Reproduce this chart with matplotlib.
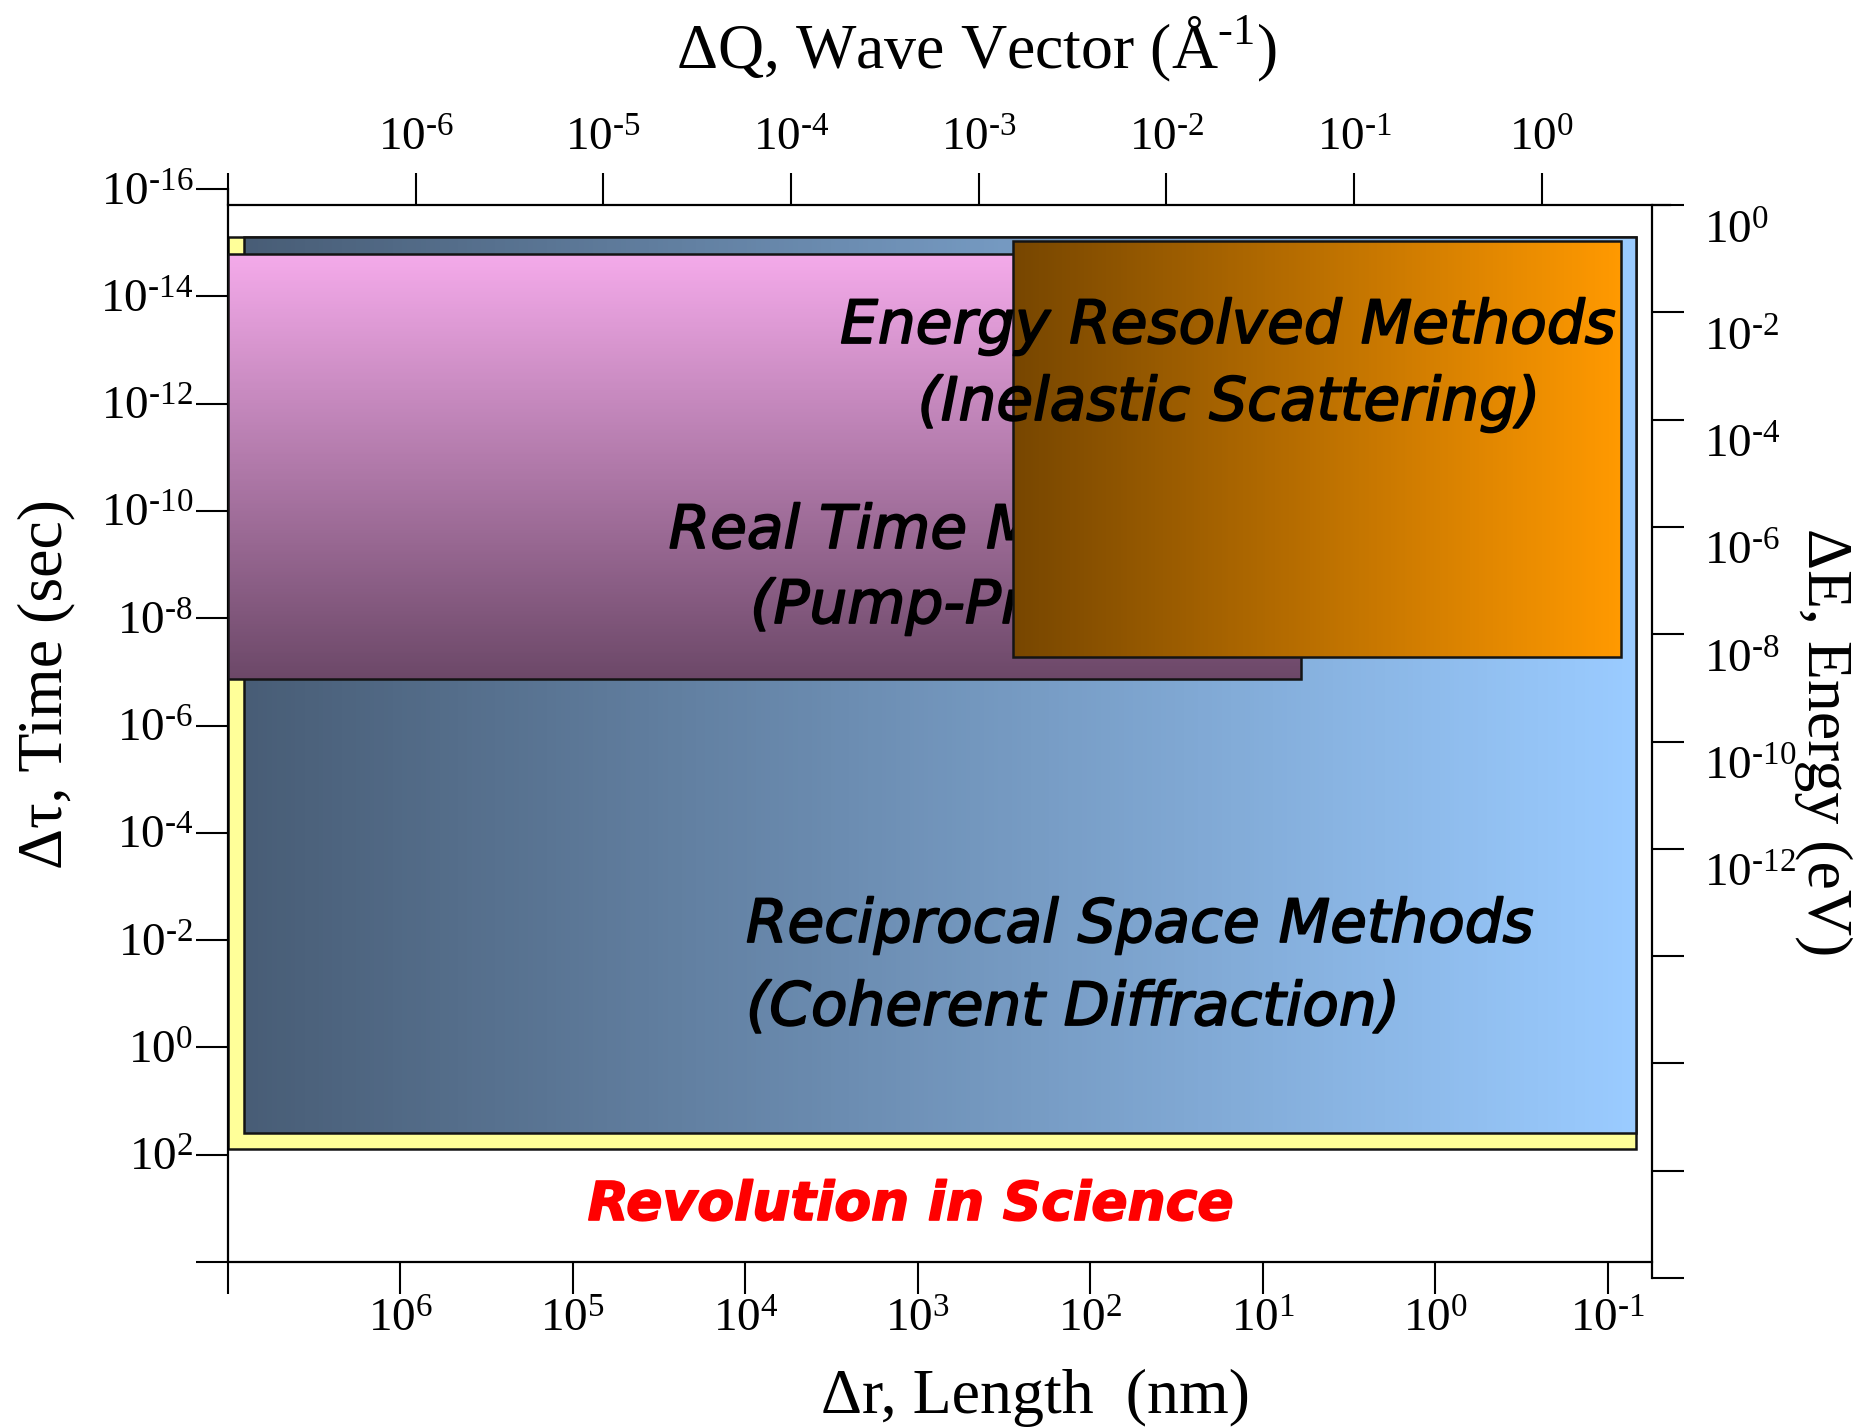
import numpy as np
import matplotlib
matplotlib.use('Agg')
import matplotlib.pyplot as plt
import matplotlib.patheffects as pe
from matplotlib.colors import LinearSegmentedColormap
from matplotlib.patches import Rectangle
from matplotlib.ticker import FixedLocator, FixedFormatter, NullLocator
from matplotlib.transforms import ScaledTranslation

plt.rcParams['font.family'] = ['Liberation Serif', 'DejaVu Serif']
plt.rcParams['mathtext.fontset'] = 'custom'
plt.rcParams['mathtext.rm'] = 'Liberation Serif'

# axis decades (log10 values)
length_ticks = [7, 6, 5, 4, 3, 2, 1, 0, -1]          # bottom, nm
length_labels = [None, 6, 5, 4, 3, 2, 1, 0, -1]
length_lim = [7, -1.258]
time_ticks = [-16, -14, -12, -10, -8, -6, -4, -2, 0, 2, 4]   # left, sec
time_labels = [-16, -14, -12, -10, -8, -6, -4, -2, 0, 2, None]
time_lim = [4, -16]
q_ticks = [-7, -6, -5, -4, -3, -2, -1, 0]          # top, 1/A
q_labels = [None, -6, -5, -4, -3, -2, -1, 0]
q_lim = [-7, 0.683]
energy_ticks = [0, -2, -4, -6, -8, -10, -12, -14, -16, -18, -20]   # right, eV
energy_labels = [0, -2, -4, -6, -8, -10, -12]
energy_lim = [-20, 0]

# regions, log10 of length (nm) and time (sec)
yellow_len = [7.0, -1.165]
yellow_time = [-15.105, 1.894]
recip_len = [6.907, -1.165]
recip_time = [-15.105, 1.595]
realtime_len = [7.0, 0.778]
realtime_time = [-14.788, -6.867]
energy_len = [2.448, -1.078]
energy_time = [-15.031, -7.277]

W, H = 1858, 1427
fig = plt.figure(figsize=(W / 100, H / 100), dpi=100)


def fx(px):
    return px / W


def fy(py):
    return 1 - py / H


def sup(e):
    if e is None:
        return ''
    # \text keeps the short hyphen used in the original
    return r'$\mathregular{10^{\text{%d}}}$' % e


tick_kw = dict(length=23, width=1.5, labelsize=34)

# main axes: bottom (length) and left (time)
ax = fig.add_axes([fx(228), fy(1262), fx(1652) - fx(228), fy(189) - fy(1262)])
ax.set_xscale('log')
ax.set_yscale('log')
ax.set_xlim(10.0 ** length_lim[0], 10.0 ** length_lim[1])
ax.set_ylim(10.0 ** time_lim[0], 10.0 ** time_lim[1])
ax.xaxis.set_major_locator(FixedLocator([10.0 ** e for e in length_ticks]))
ax.xaxis.set_major_formatter(FixedFormatter([sup(e) for e in length_labels]))
ax.yaxis.set_major_locator(FixedLocator([10.0 ** e for e in time_ticks]))
ax.yaxis.set_major_formatter(FixedFormatter([sup(e) for e in time_labels]))
ax.xaxis.set_minor_locator(NullLocator())
ax.yaxis.set_minor_locator(NullLocator())
ax.tick_params(axis='x', direction='out', pad=4, **tick_kw)
ax.tick_params(axis='y', direction='out', pad=2, **tick_kw)
ax.spines['top'].set_visible(False)
ax.spines['right'].set_visible(False)
for s in ['left', 'bottom']:
    ax.spines[s].set_linewidth(1.6)
ax.patch.set_alpha(0)


def hgrad(xs, ys, c0, c1, z):
    cmap = LinearSegmentedColormap.from_list('g', [c0, c1])
    X = np.logspace(xs[0], xs[1], 300)
    Y = [10.0 ** ys[0], 10.0 ** ys[1]]
    C = np.linspace(0, 1, 299)[None, :]
    ax.pcolormesh(X, Y, C, cmap=cmap, shading='flat', zorder=z)


def vgrad(xs, ys, c0, c1, z):
    cmap = LinearSegmentedColormap.from_list('g', [c0, c1])
    X = [10.0 ** xs[0], 10.0 ** xs[1]]
    Y = np.logspace(ys[0], ys[1], 300)
    C = np.linspace(0, 1, 299)[:, None]
    ax.pcolormesh(X, Y, C, cmap=cmap, shading='flat', zorder=z)


def outline(xs, ys, z, fc='none'):
    x0, x1 = 10.0 ** xs[0], 10.0 ** xs[1]
    y0, y1 = 10.0 ** ys[0], 10.0 ** ys[1]
    ax.add_patch(Rectangle((x0, y0), x1 - x0, y1 - y0, facecolor=fc,
                           edgecolor='#141414', lw=1.8, zorder=z))


outline(yellow_len, yellow_time, 1, fc='#ffff99')
hgrad(recip_len, recip_time, '#485d76', '#9acbff', 2)
outline(recip_len, recip_time, 2.1)
vgrad(realtime_len, realtime_time, '#f4aaea', '#6c4868', 3)
outline(realtime_len, realtime_time, 3.1)
hgrad(energy_len, energy_time, '#774600', '#ff9900', 5)
outline(energy_len, energy_time, 5.1)

thick = [pe.withStroke(linewidth=1.3, foreground='black')]
comic = dict(family=['DejaVu Sans'], style='italic', color='black', path_effects=thick)
fs = 43
fig.text(fx(1228), fy(343), 'Energy Resolved Methods', ha='center', va='baseline', fontsize=fs, zorder=10, **comic)
fig.text(fx(1229), fy(420), '(Inelastic Scattering)', ha='center', va='baseline', fontsize=fs, zorder=10, **comic)
fig.text(fx(746), fy(942), 'Reciprocal Space Methods', ha='left', va='baseline', fontsize=fs, zorder=10, **comic)
fig.text(fx(746), fy(1025), '(Coherent Diffraction)', ha='left', va='baseline', fontsize=fs, zorder=10, **comic)
# real time text sits under the orange box
rt_kw = dict(ha='center', va='baseline', fontsize=fs, zorder=4, transform=fig.transFigure, **comic)
ax.text(fx(955), fy(548), 'Real Time Methods', **rt_kw)
ax.text(fx(955), fy(623), '(Pump-Probe)', **rt_kw)
fig.text(fx(911), fy(1220), 'Revolution in Science', ha='center', va='baseline', fontsize=38.5,
         family=['DejaVu Sans'], style='italic', weight='bold', color='#ff0000',
         path_effects=[pe.withStroke(linewidth=1.2, foreground='#ff0000')])

# top axis: wave vector
axt = fig.add_axes([fx(228), fy(1262), fx(1670) - fx(228), fy(205) - fy(1262)])
axt.patch.set_visible(False)
axt.set_xscale('log')
axt.set_xlim(10.0 ** q_lim[0], 10.0 ** q_lim[1])
axt.xaxis.tick_top()
axt.xaxis.set_major_locator(FixedLocator([10.0 ** e for e in q_ticks]))
axt.xaxis.set_major_formatter(FixedFormatter([sup(e) for e in q_labels]))
axt.xaxis.set_minor_locator(NullLocator())
axt.set_yticks([])
axt.tick_params(axis='x', direction='out', pad=9, **tick_kw)
for s in ['left', 'right', 'bottom']:
    axt.spines[s].set_visible(False)
axt.spines['top'].set_linewidth(1.6)

# right axis: energy
axr = fig.add_axes([fx(228), fy(1278), fx(1652) - fx(228), fy(205) - fy(1278)])
axr.patch.set_visible(False)
axr.set_yscale('log')
axr.set_ylim(10.0 ** energy_lim[0], 10.0 ** energy_lim[1])
axr.yaxis.tick_right()
axr.yaxis.set_major_locator(FixedLocator([10.0 ** e for e in energy_ticks]))
axr.yaxis.set_major_formatter(FixedFormatter([''] * len(energy_ticks)))
axr.yaxis.set_minor_locator(NullLocator())
axr.set_xticks([])
axr.tick_params(axis='y', direction='out', **tick_kw)
for s in ['left', 'top', 'bottom']:
    axr.spines[s].set_visible(False)
axr.spines['right'].set_linewidth(1.6)
off = ScaledTranslation(0.52, -0.22, fig.dpi_scale_trans)
for e in energy_labels:
    axr.text(1.0, 10.0 ** e, sup(e), transform=axr.get_yaxis_transform() + off,
             ha='left', va='center_baseline', fontsize=34)

lab = dict(fontsize=46)
fig.text(fx(977), fy(68), r'$\Delta$Q, Wave Vector (Å$^{\mathregular{\text{-1}}}$)', ha='center', va='baseline', **lab)
fig.text(fx(1035), fy(1413), 'Δr, Length  (nm)', ha='center', va='baseline', **lab)
fig.text(fx(46), fy(684), 'Δτ, Time (sec)', rotation=90, ha='center', va='center', **lab)
fig.text(fx(1823), fy(742), 'ΔE, Energy (eV)', rotation=-90, ha='center', va='center', **lab)

fig.savefig('out.png', dpi=100)
